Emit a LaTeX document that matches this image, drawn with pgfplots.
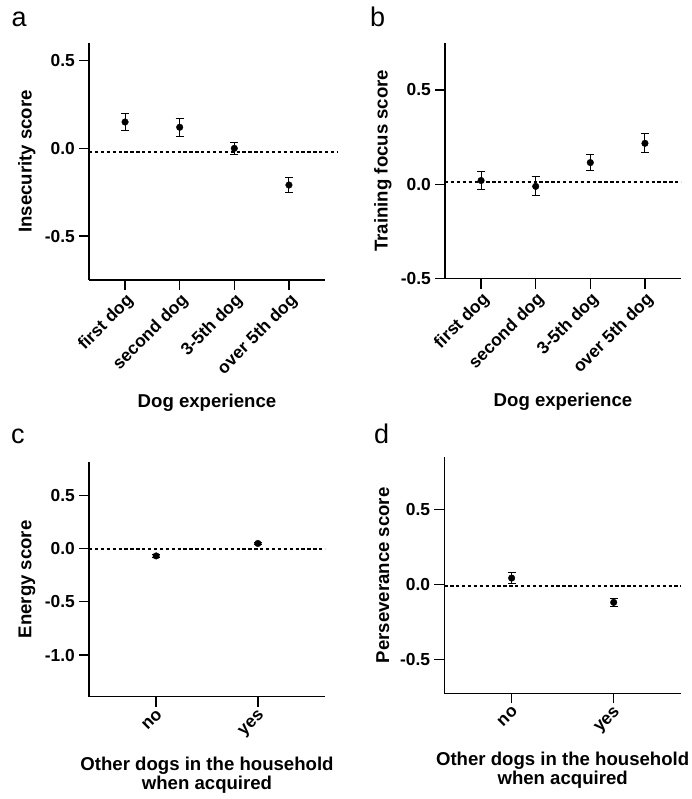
\documentclass[border=0pt]{standalone}
\usepackage{pgfplots}
\pgfplotsset{compat=1.18}
\usepackage{fontspec}
\setmainfont{Liberation Sans}
\newcommand{\tfont}{\fontsize{17.4}{17.4}\selectfont\bfseries}
\newcommand{\tl}[1]{\textbf{#1}}
\begin{document}
\begin{tikzpicture}
\path[use as bounding box] (0pt,0pt) rectangle (692pt,799pt);
\pgfplotsset{
  myax/.style={
    scale only axis,
    axis lines=left,
    axis line style={-, line width=1.3pt, black},
    tick align=outside,
    major tick length=10pt,
    tick style={line width=1.3pt, black},
    minor tick num=0,
    tick label style={font=\tfont},
    label style={font=\bfseries\fontsize{18.6}{19.3}\selectfont},
    y tick label style={inner sep=4pt},
    x tick label style={rotate=45, anchor=north east, inner sep=1.5pt},
    clip=false,
  },
  pts/.style={only marks, mark=*, mark size=3.3pt, black,
    error bars/.cd, y dir=both, y explicit,
    error bar style={line width=1pt, black},
    error mark options={rotate=90, mark size=4pt, line width=1pt, black}},
  ref/.style={black, line width=1.6pt, dash pattern=on 3.3pt off 2.6pt, no marks},
}
% panel letters
\node[anchor=base west, inner sep=0, font=\fontsize{27}{27}\selectfont] at (11.5pt,772pt) {a};
\node[anchor=base west, inner sep=0, font=\fontsize{27}{27}\selectfont] at (370pt,772.3pt) {b};
\node[anchor=base west, inner sep=0, font=\fontsize{27}{27}\selectfont] at (11pt,355pt) {c};
\node[anchor=base west, inner sep=0, font=\fontsize{27}{27}\selectfont] at (374pt,355pt) {d};

% ---- a ----
\begin{axis}[myax, at={(89pt,519pt)}, anchor=south west, width=236pt, height=237pt,
  xmin=-0.66, xmax=3.66, ymin=-0.75, ymax=0.6,
  xtick={0,1,2,3},
  ytick={-0.5,0,0.5}, yticklabels={\tl{-0.5},\tl{0.0},\tl{0.5}},
  xticklabels={\tl{first dog}, \tl{second dog}, \tl{3-5th dog}, \tl{over 5th dog}},
  xlabel={Dog experience}, ylabel={Insecurity score},
  xlabel style={at={(axis description cs:0.5,0)}, anchor=base, yshift=-128pt},
  ylabel style={at={(axis description cs:-0.263,0.5)}, anchor=center}]
\addplot[ref, forget plot] coordinates {(-0.66,-0.021) (3.88,-0.021)};
\addplot[pts] coordinates {(0,0.15) +- (0,0.05) (1,0.12) +- (0,0.05) (2,0.0) +- (0,0.035) (3,-0.209) +- (0,0.042)};
\end{axis}

% ---- b ----
\begin{axis}[myax, at={(445pt,520.3pt)}, anchor=south west, width=236pt, height=236pt,
  xmin=-0.66, xmax=3.66, ymin=-0.5, ymax=0.75,
  xtick={0,1,2,3},
  ytick={-0.5,0,0.5}, yticklabels={\tl{-0.5},\tl{0.0},\tl{0.5}},
  xticklabels={\tl{first dog}, \tl{second dog}, \tl{3-5th dog}, \tl{over 5th dog}},
  xlabel={Dog experience}, ylabel={Training focus score},
  xlabel style={at={(axis description cs:0.5,0)}, anchor=base, yshift=-128pt},
  ylabel style={at={(axis description cs:-0.263,0.5)}, anchor=center}]
\addplot[ref, forget plot] coordinates {(-0.66,0.012) (3.66,0.012)};
\addplot[pts] coordinates {(0,0.02) +- (0,0.05) (1,-0.011) +- (0,0.05) (2,0.115) +- (0,0.043) (3,0.217) +- (0,0.05)};
\end{axis}

% ---- c ----
\begin{axis}[myax, at={(89pt,102.3pt)}, anchor=south west, width=236pt, height=234.6pt,
  xmin=-0.66, xmax=1.66, ymin=-1.39, ymax=0.81,
  xtick={0,1},
  ytick={-1,-0.5,0,0.5}, yticklabels={\tl{-1.0},\tl{-0.5},\tl{0.0},\tl{0.5}},
  xticklabels={\tl{no}, \tl{yes}},
  xlabel={Other dogs in the household\\when acquired}, ylabel={Energy score},
  xlabel style={at={(axis description cs:0.5,0)}, anchor=north, inner sep=0pt, align=center, yshift=-60pt},
  ylabel style={at={(axis description cs:-0.263,0.5)}, anchor=center}]
\addplot[ref, forget plot] coordinates {(-0.66,-0.006) (1.66,-0.006)};
\addplot[pts] coordinates {(0,-0.07) +- (0,0.01) (1,0.047) +- (0,0.012)};
\end{axis}

% ---- d ----
\begin{axis}[myax, at={(444.3pt,105.7pt)}, anchor=south west, width=236.7pt, height=236pt,
  xmin=-0.66, xmax=1.66, ymin=-0.724, ymax=0.849,
  xtick={0,1},
  ytick={-0.5,0,0.5}, yticklabels={\tl{-0.5},\tl{0.0},\tl{0.5}},
  xticklabels={\tl{no}, \tl{yes}},
  xlabel={Other dogs in the household\\when acquired}, ylabel={Perseverance score},
  xlabel style={at={(axis description cs:0.5,0)}, anchor=north, inner sep=0pt, align=center, yshift=-58.4pt},
  ylabel style={at={(axis description cs:-0.26,0.5)}, anchor=center}]
\addplot[ref, forget plot] coordinates {(-0.66,-0.009) (1.66,-0.009)};
\addplot[pts] coordinates {(0,0.044) +- (0,0.037) (1,-0.118) +- (0,0.028)};
\end{axis}
\end{tikzpicture}
\end{document}
